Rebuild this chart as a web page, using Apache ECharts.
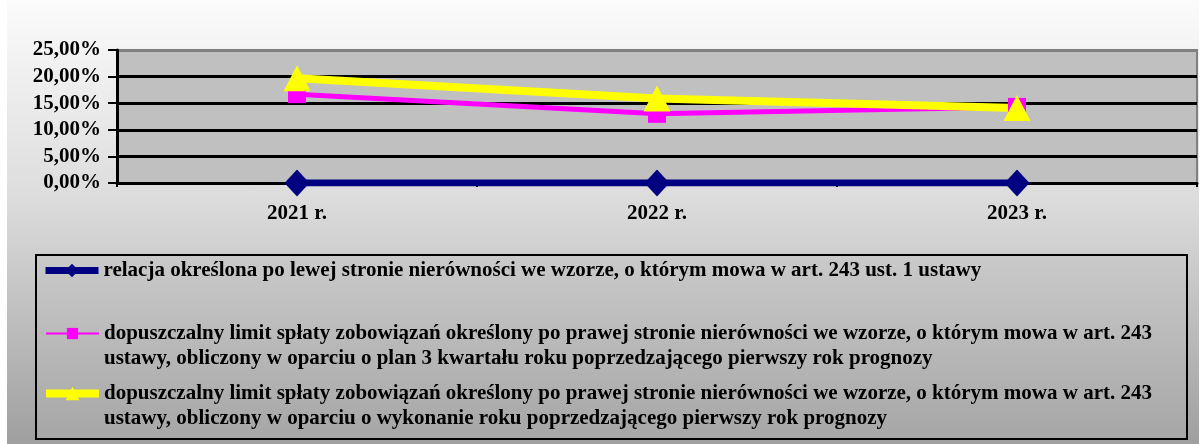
<!DOCTYPE html>
<html>
<head>
<meta charset="utf-8">
<script src="https://cdn.jsdelivr.net/npm/echarts@6/dist/echarts.min.js"></script>
<style>
	html, body { margin: 0; padding: 0; background: #fff; }
	#bg { position: absolute; left: 7px; top: 0; width: 1192px; height: 444px;
		background: linear-gradient(to bottom, #fbfbfb 0%, #dcdcdc 45%, #9f9f9f 100%); }
	#main { position: absolute; left: 0; top: 0; width: 1203px; height: 444px; }
</style>
</head>
<body>
<div id="bg"></div>
<div id="main"></div>
<script>
	var years = ['2021 r.', '2022 r.', '2023 r.'];
	var seriesNames = [
		'relacja określona po lewej stronie nierówności we wzorze, o którym mowa w art. 243 ust. 1 ustawy',
		'dopuszczalny limit spłaty zobowiązań określony po prawej stronie nierówności we wzorze, o którym mowa w art. 243 ustawy, obliczony w oparciu o plan 3 kwartału roku poprzedzającego pierwszy rok prognozy',
		'dopuszczalny limit spłaty zobowiązań określony po prawej stronie nierówności we wzorze, o którym mowa w art. 243 ustawy, obliczony w oparciu o wykonanie roku poprzedzającego pierwszy rok prognozy'
	];
	// wartości w %
	var relacja = [0, 0, 0];
	var limitPlan = [16.7, 13.0, 14.3];
	var limitWykonanie = [19.7, 15.9, 14.1];
	var yTicks = [0, 5, 10, 15, 20, 25];

	var font = '"Liberation Serif", "Times New Roman", serif';

	var chart = echarts.init(document.getElementById('main'));

	// legenda - osobno dla każdej pozycji
	// dwuliniowe wpisy: pusta linia na początku, żeby ikona stała przy pierwszej linii tekstu
	function legendItem(name, left, top, lineWidth, twoLines) {
		return {
			data: [name],
			left: left,
			top: top,
			padding: 0,
			itemWidth: 53,
			itemHeight: lineWidth > 4 ? 17 : 14,
			selectedMode: false,
			lineStyle: { width: lineWidth, cap: 'butt' },
			formatter: function (n) {
				return twoLines ? '\n' + n.replace('art. 243 ', 'art. 243\n') : n;
			},
			textStyle: {
				fontFamily: font,
				fontWeight: 'bold',
				fontSize: 21,
				color: '#000',
				lineHeight: 25
			}
		};
	}

	var option = {
		animation: false,
		grid: {
			left: 117,
			right: 6,
			top: 50,
			bottom: 261,
			show: true,
			backgroundColor: '#c0c0c0',
			borderColor: '#808080',
			borderWidth: 2
		},
		graphic: [{
			type: 'rect',
			z: -1,
			shape: { x: 36, y: 255, width: 1151, height: 184 },
			style: {
				fill: new echarts.graphic.LinearGradient(0, 0, 0, 1, [
					{ offset: 0, color: '#cacaca' },
					{ offset: 1, color: '#a6a6a6' }
				]),
				stroke: '#000',
				lineWidth: 2
			}
		}],
		legend: [
			legendItem(seriesNames[0], 42, 258, 7, false),
			legendItem(seriesNames[1], 45, 296, 2, true),
			legendItem(seriesNames[2], 42, 356, 8, true)
		],
		xAxis: {
			type: 'category',
			data: years,
			boundaryGap: true,
			axisLine: { lineStyle: { color: '#000', width: 3 } },
			axisTick: { show: true, inside: false, length: 4, lineStyle: { color: '#000', width: 2 } },
			axisLabel: {
				margin: 20,
				fontFamily: font,
				fontWeight: 'bold',
				fontSize: 21,
				color: '#000'
			},
			splitLine: { show: false }
		},
		yAxis: {
			type: 'value',
			min: yTicks[0],
			max: yTicks[yTicks.length - 1],
			interval: 5,
			axisLine: { show: true, lineStyle: { color: '#000', width: 3 } },
			axisTick: { show: true, length: 9, lineStyle: { color: '#000', width: 2 } },
			axisLabel: {
				margin: 16,
				fontFamily: font,
				fontWeight: 'bold',
				fontSize: 21,
				color: '#000',
				formatter: function (v) {
					return v.toFixed(2).replace('.', ',') + '%';
				}
			},
			splitLine: {
				show: true,
				lineStyle: { color: ['#000', '#000', '#000', '#000', '#000', '#808080'], width: 3 }
			}
		},
		series: [
			{
				name: seriesNames[0],
				type: 'line',
				data: relacja,
				color: '#000080',
				symbol: 'diamond',
				symbolSize: [25, 27],
				lineStyle: { width: 7, color: '#000080' },
				itemStyle: { color: '#000080' }
			},
			{
				name: seriesNames[1],
				type: 'line',
				data: limitPlan,
				color: '#ff00ff',
				symbol: 'rect',
				symbolSize: 18,
				lineStyle: { width: 5, color: '#ff00ff' },
				itemStyle: { color: '#ff00ff' }
			},
			{
				name: seriesNames[2],
				type: 'line',
				data: limitWykonanie,
				color: '#ffff00',
				symbol: 'triangle',
				symbolSize: [27, 26],
				lineStyle: { width: 8, color: '#ffff00' },
				itemStyle: { color: '#ffff00' }
			}
		]
	};

	chart.setOption(option);
</script>
</body>
</html>
